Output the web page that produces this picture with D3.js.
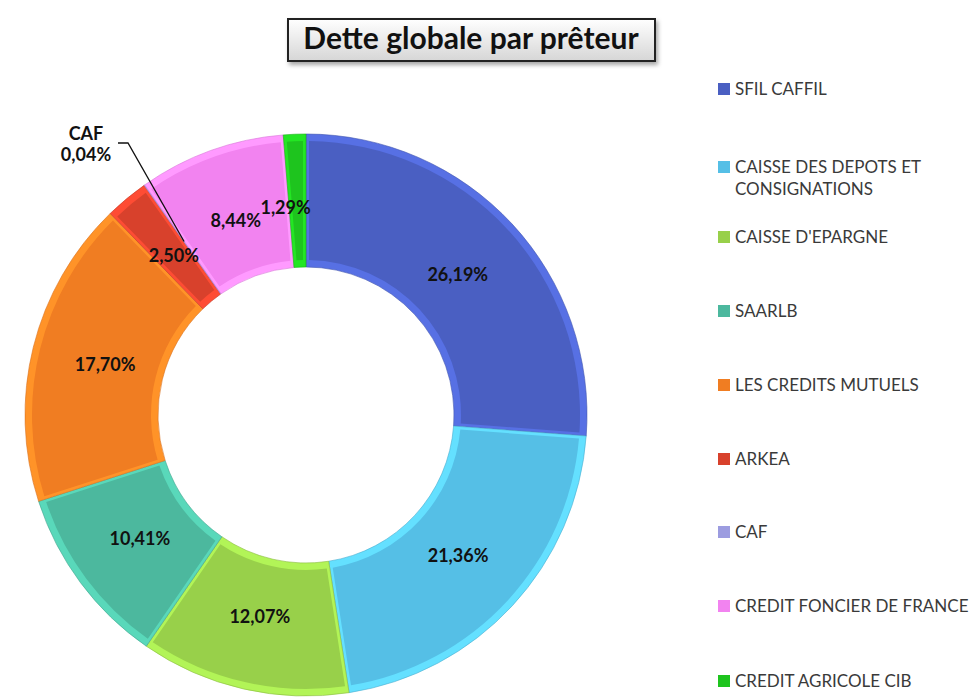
<!DOCTYPE html>
<html>
<head>
<meta charset="utf-8">
<script src="https://cdn.jsdelivr.net/npm/d3@7"></script>
<style>
  body { margin: 0; background: #fff; }
  svg { display: block; font-family: Lato, 'Open Sans', sans-serif; }
</style>
</head>
<body>
<div id="chart"></div>
<script>
'use strict'

const lenders = ['SFIL CAFFIL', 'CAISSE DES DEPOTS ET CONSIGNATIONS', "CAISSE D'EPARGNE", 'SAARLB',
  'LES CREDITS MUTUELS', 'ARKEA', 'CAF', 'CREDIT FONCIER DE FRANCE', 'CREDIT AGRICOLE CIB']
const shares = [26.19, 21.36, 12.07, 10.41, 17.70, 2.50, 0.04, 8.44, 1.29]
const colors = ['#4a5fc2', '#55bfe6', '#98d04a', '#4cb89e', '#f07d22', '#d8412c', '#9c9ce0', '#f283f0', '#1ec41e']
const legendBaselines = [95, 173, 243, 317, 391, 465, 538, 612, 687]

const WIDTH = 973
const HEIGHT = 699
const CENTER = { x: 306, y: 415 }
const OUTER = 281
const INNER = 148

const fmt = v => d3.format('.2f')(v).replace('.', ',') + '%'

const svg = d3.select('#chart').append('svg')
  .attr('width', WIDTH)
  .attr('height', HEIGHT)

const defs = svg.append('defs')
const titleGrad = defs.append('linearGradient').attr('id', 'title-grad')
  .attr('x1', 0).attr('y1', 0).attr('x2', 0).attr('y2', 1)
titleGrad.append('stop').attr('offset', '0%').attr('stop-color', '#ffffff')
titleGrad.append('stop').attr('offset', '100%').attr('stop-color', '#d6d6d6')
const shadow = defs.append('filter').attr('id', 'shadow')
  .attr('x', '-10%').attr('y', '-10%').attr('width', '130%').attr('height', '160%')
shadow.append('feDropShadow').attr('dx', 2).attr('dy', 3).attr('stdDeviation', 2)
  .attr('flood-color', '#000').attr('flood-opacity', 0.35)

// title
const title = svg.append('g')
title.append('rect')
  .attr('x', 288).attr('y', 19).attr('width', 367).attr('height', 42)
  .attr('fill', 'url(#title-grad)')
  .attr('stroke', '#222').attr('stroke-width', 2)
  .attr('filter', 'url(#shadow)')
title.append('text')
  .attr('x', 471).attr('y', 49)
  .attr('text-anchor', 'middle')
  .attr('font-size', 30).attr('font-weight', 'bold')
  .attr('fill', '#111')
  .text('Dette globale par prêteur')

// donut
const data = lenders.map((name, i) => ({ name, value: shares[i], color: colors[i] }))
const pie = d3.pie().sort(null).value(d => d.value)
const arcs = pie(data)

const outerArc = d3.arc().innerRadius(INNER).outerRadius(OUTER)
const faceArc = d3.arc().innerRadius(INNER + 7).outerRadius(OUTER - 7)
  .padAngle(0.05).padRadius(120)
const labelArc = d3.arc().innerRadius(207).outerRadius(207)

const donut = svg.append('g')
  .attr('transform', 'translate(' + CENTER.x + ',' + CENTER.y + ')')

const slices = donut.selectAll('g.slice').data(arcs).enter().append('g').attr('class', 'slice')
slices.append('path')
  .attr('d', outerArc)
  .attr('fill', d => d3.color(d.data.color).brighter(0.45))
  .attr('stroke', d => d3.color(d.data.color).darker(0.3))
  .attr('stroke-width', 0.6)
slices.append('path')
  .attr('d', d => d.endAngle - d.startAngle > 0.02 ? faceArc(d) : null)
  .attr('fill', d => d.data.color)

// value labels
donut.selectAll('text.value').data(arcs.filter(d => d.data.name !== 'CAF')).enter()
  .append('text')
  .attr('class', 'value')
  .attr('transform', d => {
    const c = labelArc.centroid(d)
    if (d.data.name === 'CREDIT AGRICOLE CIB') c[0] -= 12
    return 'translate(' + c + ')'
  })
  .attr('text-anchor', 'middle')
  .attr('dy', '0.35em')
  .attr('font-size', 18).attr('font-weight', 'bold')
  .attr('fill', '#111')
  .text(d => fmt(d.data.value))

// CAF label with leader line
const caf = arcs.find(d => d.data.name === 'CAF')
const cafPoint = d3.arc().innerRadius(212).outerRadius(212).centroid(caf)
const elbow = [128 - CENTER.x, 143 - CENTER.y]
donut.append('polyline')
  .attr('points', [cafPoint, elbow, [elbow[0] - 10, elbow[1]]].map(p => p.join(',')).join(' '))
  .attr('fill', 'none')
  .attr('stroke', '#111')
  .attr('stroke-width', 1.3)
donut.append('text')
  .attr('x', elbow[0] - 42).attr('y', elbow[1] - 3)
  .attr('text-anchor', 'middle')
  .attr('font-size', 18).attr('font-weight', 'bold').attr('fill', '#111')
  .text(caf.data.name)
donut.append('text')
  .attr('x', elbow[0] - 42).attr('y', elbow[1] + 18)
  .attr('text-anchor', 'middle')
  .attr('font-size', 18).attr('font-weight', 'bold').attr('fill', '#111')
  .text(fmt(caf.data.value))

// legend
const legend = svg.append('g').attr('transform', 'translate(718,0)')
const items = legend.selectAll('g.item').data(data).enter().append('g')
  .attr('class', 'item')
  .attr('transform', (d, i) => 'translate(0,' + legendBaselines[i] + ')')
items.append('rect')
  .attr('x', 0).attr('y', -12).attr('width', 12).attr('height', 12)
  .attr('fill', d => d.color)
items.append('text')
  .attr('font-size', 17)
  .attr('fill', '#3a3a3a')
  .each(function (d) {
    const words = d.name.split(' ')
    const lines = []
    let line = ''
    words.forEach(w => {
      const next = line ? line + ' ' + w : w
      if (next.length > 26 && line) {
        lines.push(line)
        line = w
      } else {
        line = next
      }
    })
    lines.push(line)
    d3.select(this).selectAll('tspan').data(lines).enter().append('tspan')
      .attr('x', 17)
      .attr('dy', (l, j) => j === 0 ? 0 : 22)
      .text(l => l)
  })
</script>
</body>
</html>
